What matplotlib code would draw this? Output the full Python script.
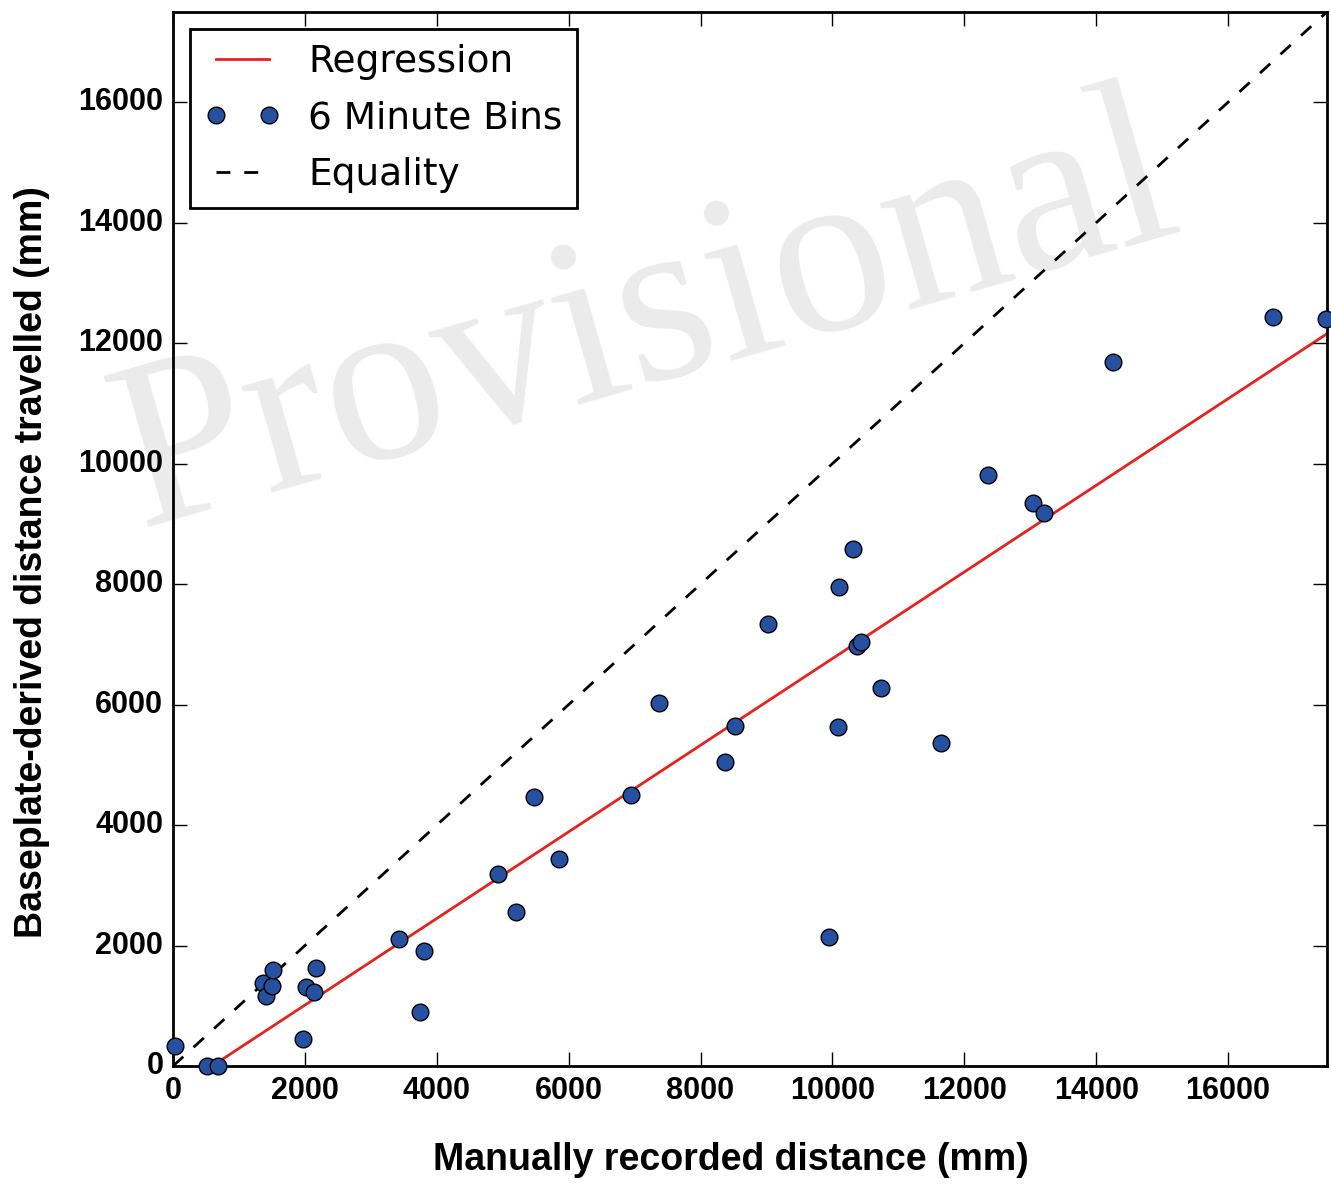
import matplotlib
matplotlib.use("Agg")
import matplotlib.pyplot as plt
import numpy as np

# manually recorded distance (mm) vs baseplate-derived distance (mm), 6 minute bins
manual = [30, 517, 685, 1369, 1415, 1506, 1521, 1977, 2023, 2145, 2175,
          3422, 3741, 3802, 4927, 5201, 5475, 5855, 6950, 7376, 8365, 8517,
          9019, 9946, 10083, 10099, 10312, 10373, 10434, 10738, 11651,
          12366, 13035, 13202, 14252, 16686, 17480]
baseplate = [333, 0, 0, 1382, 1166, 1332, 1598, 450, 1315, 1232, 1632,
             2115, 899, 1915, 3180, 2564, 4462, 3430, 4496, 6027, 5045, 5644,
             7343, 2148, 5628, 7959, 8591, 6976, 7043, 6277, 5361,
             9807, 9341, 9174, 11688, 12438, 12404]

# regression fit
slope = 0.719
intercept = -426
line_x = [0, 17500]

plt.style.use('classic')
plt.rcParams['font.family'] = ['Liberation Sans', 'DejaVu Sans']

fig = plt.figure(figsize=(13.31, 11.85), dpi=100, facecolor='white')
ax = fig.add_axes([0.130, 0.1004, 0.867, 0.8896])

# watermark
ax.text(0.41, 0.705, 'Provisional', transform=ax.transAxes, fontsize=172,
        family='Liberation Serif', color='#ebebeb', rotation=16,
        ha='center', va='center', rotation_mode='anchor', zorder=0)

reg_y = [slope * v + intercept for v in line_x]
ax.plot(line_x, reg_y, color='#e8211d', lw=2, label='Regression', zorder=2)
ax.plot(manual, baseplate, 'o', color='#2651a0', mec='black', mew=1,
        ms=12, label='6 Minute Bins', zorder=3, clip_on=False)
ax.plot(line_x, line_x, '--', color='black', lw=2, dashes=(10, 10),
        label='Equality', zorder=2)

ax.set_xlim(0, 17500)
ax.set_ylim(0, 17500)
ax.set_xticks(np.arange(0, 17000, 2000))
ax.set_yticks(np.arange(0, 17000, 2000))
ax.tick_params(direction='in', length=10, width=1, labelsize=22, pad=7)
for lab in ax.get_xticklabels() + ax.get_yticklabels():
    lab.set_fontweight('bold')
for s in ax.spines.values():
    s.set_linewidth(2)

ax.set_xlabel('Manually recorded distance (mm)', fontsize=27, fontweight='bold')
ax.set_ylabel('Baseplate-derived distance travelled (mm)', fontsize=27, fontweight='bold')
ax.xaxis.set_label_coords(0.4835, -0.072)
ax.yaxis.set_label_coords(-0.107, 0.478)

leg = ax.legend(loc='upper left', numpoints=2, prop={'family': 'DejaVu Sans', 'size': 27},
                frameon=True, fancybox=False, borderaxespad=0.45, handlelength=2.0,
                borderpad=0.4, labelspacing=0.55, handletextpad=0.75)
leg.get_frame().set_edgecolor('black')
leg.get_frame().set_linewidth(2)

fig.savefig('out.png', dpi=100, facecolor='white')
